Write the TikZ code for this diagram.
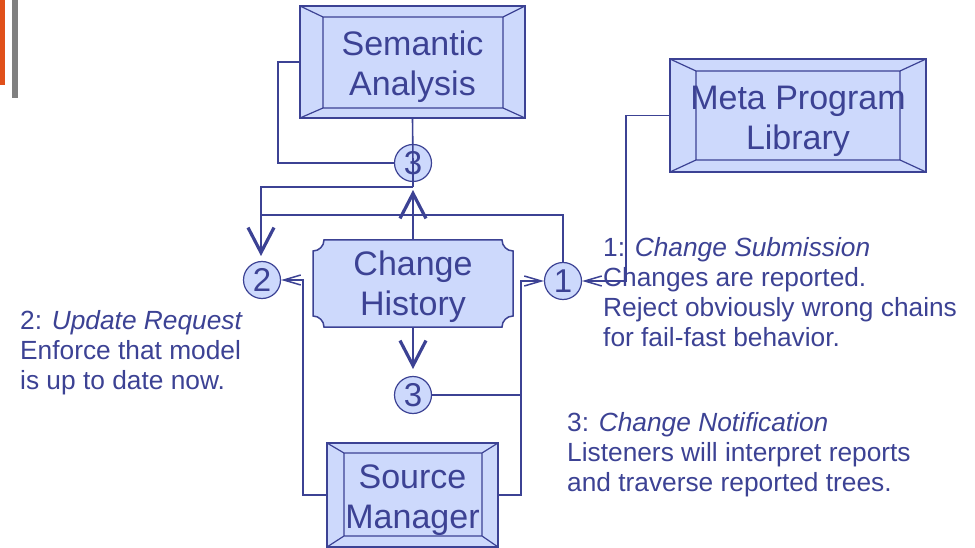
\documentclass[tikz,border=0pt]{standalone}
\usepackage{fontspec}
\setmainfont{Liberation Sans}
\usetikzlibrary{arrows.meta,calc}
\definecolor{lc}{RGB}{60,66,148}
\definecolor{bf}{RGB}{205,217,252}
\definecolor{orng}{RGB}{224,80,26}
\definecolor{gbar}{RGB}{128,128,128}
\tikzset{
  bevel/.style n args={4}{rectangle, draw=lc, fill=bf, line width=1.5pt, inner sep=0pt,
    path picture={
      \path (path picture bounding box.north west) coordinate (o1)
            (path picture bounding box.south east) coordinate (o2);
      \path ($(o1)+(#1pt,-#2pt)$) coordinate (i1) ($(o2)+(-#3pt,#4pt)$) coordinate (i2);
      \draw[lc, line width=1.2pt] (o1) -- (i1) (o2|-o1) -- (i2|-i1) (o1|-o2) -- (i1|-i2) (o2) -- (i2)
        (i1) rectangle (i2);
    }},
  boxtext/.style={text=lc, font=\fontsize{34}{40}\selectfont, align=center, inner sep=0pt},
  num/.style={circle, draw=lc, fill=bf, line width=1.2pt, minimum size=37pt, inner sep=0pt,
    text=lc, font=\fontsize{33}{33}\selectfont},
  conn/.style={draw=lc, line width=1.6pt},
  bigv/.style={-{Straight Barb[length=25pt,width=26pt,line width=3.2pt]}},
  smallv/.style={-{Straight Barb[length=17pt,width=10pt,line width=1.5pt]}},
  note/.style={anchor=north west, align=left, inner sep=0pt, text=lc,
    font=\fontsize{26.3}{30}\selectfont},
}
\begin{document}
\begin{tikzpicture}[x=1pt,y=-1pt]
\useasboundingbox (0,0) rectangle (975,548);
% side bars
\fill[orng] (0,0) rectangle (5,85);
\fill[gbar] (12,0) rectangle (18,98);

% boxes
\node[bevel={23}{11}{22}{10}, minimum width=225pt, minimum height=112pt] (sa) at (412.5,62) {};
\node[boxtext] (satext) at (412.5,67) {Semantic\\Analysis};
\node[bevel={26}{12}{26}{12}, minimum width=256pt, minimum height=113pt] (mpl) at (798,115.5) {};
\node[boxtext] (mpltext) at (798,121) {Meta Program\\Library};
\node[bevel={17}{10}{16}{11}, minimum width=171pt, minimum height=104pt] (sm) at (412.5,495) {};
\node[boxtext] (smtext) at (412.5,500) {Source\\Manager};

% change history (concave corners)
\path[fill=bf, draw=lc, line width=1.5pt]
  (324,240) -- (502,240) .. controls (502,246) and (507,251) .. (513,251)
  -- (513,316) .. controls (507,316) and (502,321) .. (502,327)
  -- (324,327) .. controls (324,321) and (319,316) .. (313,316)
  -- (313,251) .. controls (319,251) and (324,246) .. (324,240) -- cycle;
\node[minimum width=200pt, minimum height=87pt, inner sep=0pt] (ch) at (413,283.5) {};
\node[boxtext] (chtext) at (413,287) {Change\\History};

% numbered circles
\node[num] (c3t) at (413,163) {3};
\node[num] (c2) at (262,280) {2};
\node[num] (c1) at (563,281) {1};
\node[num] (c3b) at (413,395) {3};

% helper coordinates
\coordinate (upTip) at (413,190);
\coordinate (dnTip) at (413,369);
\coordinate (c2Tip) at (261,256);
\coordinate (rj) at (520,395);

% connectors
\draw[conn] (sa.south) -- (c3t.center);
\draw[conn] (c3t.center) -- (413,187);
\draw[conn, bigv] (413,187) -| (c2Tip);
\draw[conn] (sa.west |- 0,62) -- (278,62) |- (c3t.west);
\draw[conn, bigv] (ch.north) -- (upTip);
\draw[conn] (c1.north) |- (261,215);
\draw[conn, bigv] (ch.south) -- (dnTip);
\draw[conn, smallv] (sm.west) -- ++(-23,0) |- (c2.east);
\draw[conn, smallv] (sm.east) -- ++(22,0) |- (c1.west);
\draw[conn] (c3b.east) -- (rj);
\draw[conn, smallv] (mpl.west) -- ++(-43,0) |- (c1.east);

% notes
\node[note] (n1) at (603,237) {1: \textit{Change Submission}\\Changes are reported.\\Reject obviously wrong chains\\for fail-fast behavior.};
\node[note] (n2) at (20,310) {2: \textit{Update Request}\\Enforce that model\\is up to date now.};
\node[note] (n3) at (567,412) {3: \textit{Change Notification}\\Listeners will interpret reports\\and traverse reported trees.};
\end{tikzpicture}
\end{document}
